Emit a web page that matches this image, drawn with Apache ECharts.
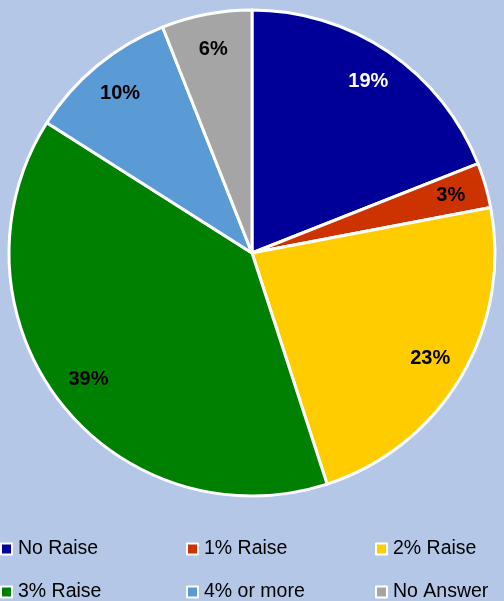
<!DOCTYPE html>
<html><head><meta charset="utf-8">
<script src="https://cdn.jsdelivr.net/npm/echarts@6/dist/echarts.min.js"></script>
<style>html,body{margin:0;padding:0;background:#B4C7E7;}#c{width:504px;height:601px;}</style>
</head><body><div id="c"></div>
<script>
const categories = ['No Raise','1% Raise','2% Raise','3% Raise','4% or more','No Answer'];
const values = [19, 3, 23, 39, 10, 6];
const colors = ['#000099','#CC3300','#FFCC00','#008000','#5B9BD5','#A5A5A5'];
const labelColors = ['#FFFFFF','#000000','#000000','#000000','#000000','#000000'];

const data = categories.map((n,i)=>({name:n,value:values[i],itemStyle:{color:colors[i]}}));
const labelData = categories.map((n,i)=>({name:n,value:values[i],label:{color:labelColors[i]}}));

const legendPos = [[0,539],[186,539],[375,539],[0,582],[186,582],[375,582]];
const legends = categories.map((n,i)=>({
  data:[n], left:legendPos[i][0], top:legendPos[i][1], padding:0,
  icon:'rect', itemWidth:11, itemHeight:11,
  itemStyle:{borderColor:'#FFFFFF',borderWidth:2},
  textStyle:{fontFamily:'Liberation Sans, Arial, sans-serif',fontSize:19.5,color:'#000',padding:[0,0,0,1]},
  selectedMode:false
}));

const chart = echarts.init(document.getElementById('c'));
chart.setOption({
  backgroundColor:'#B4C7E7',
  animation:false,
  color:colors,
  legend:legends,
  series:[
    {type:'pie', center:[252,253], radius:[0,243], startAngle:90, clockwise:true,
     data:data, label:{show:false}, labelLine:{show:false},
     itemStyle:{borderColor:'#FFFFFF',borderWidth:3}, silent:true},
    {type:'pie', center:[252,253], radius:[166,242], startAngle:90, clockwise:true,
     data:labelData, itemStyle:{color:'rgba(0,0,0,0)'}, silent:true, legendHoverLink:false,
     label:{show:true, position:'inside', formatter:'{c}%', fontSize:20, fontWeight:'bold',
       fontFamily:'Liberation Sans, Arial, sans-serif'},
     labelLine:{show:false}}
  ]
});
</script></body></html>
